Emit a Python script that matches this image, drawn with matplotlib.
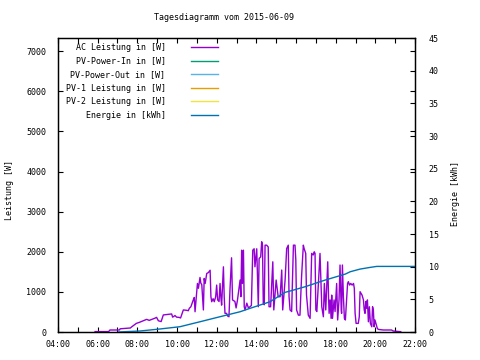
import matplotlib
matplotlib.use("Agg")
import matplotlib.pyplot as plt
from matplotlib.ticker import MultipleLocator

plt.rcParams['font.family'] = 'DejaVu Sans Mono'
plt.rcParams['font.size'] = 6

title = "Tagesdiagramm vom 2015-06-09"
series_labels = ["AC Leistung in [W]", "PV-Power-In in [W]", "PV-Power-Out in [W]",
                 "PV-1 Leistung in [W]", "PV-2 Leistung in [W]", "Energie in [kWh]"]
series_colors = ["#9400D3", "#009E73", "#56B4E9", "#E69F00", "#F0E442", "#0072B2"]

xtick_hours = [4, 6, 8, 10, 12, 14, 16, 18, 20, 22]
xtick_labels = ["04:00", "06:00", "08:00", "10:00", "12:00",
                "14:00", "16:00", "18:00", "20:00", "22:00"]

# AC power (hour of day, watts)
ac_hours = [5.87, 6.55, 6.62, 7.10, 7.13, 7.65, 7.72, 7.95, 8.10, 8.30, 8.47, 8.60, 8.89, 8.97,
            9.06, 9.20, 9.31, 9.55, 9.73, 9.78, 9.90, 9.98, 10.10, 10.18, 10.32, 10.50, 10.57,
            10.62, 10.70, 10.82, 10.87, 10.91, 11.03, 11.08, 11.16, 11.20, 11.25, 11.33, 11.37,
            11.42, 11.50, 11.58, 11.67, 11.71, 11.75, 11.82, 11.88, 11.95, 12.00, 12.05, 12.12,
            12.17, 12.21, 12.25, 12.34, 12.38, 12.42, 12.50, 12.55, 12.62, 12.67, 12.75, 12.80,
            12.92, 12.98, 13.05, 13.18, 13.22, 13.26, 13.30, 13.35, 13.39, 13.43, 13.52, 13.60,
            13.68, 13.75, 13.82, 13.89, 13.93, 14.02, 14.10, 14.14, 14.22, 14.27, 14.31, 14.35,
            14.40, 14.44, 14.52, 14.60, 14.64, 14.72, 14.83, 14.88, 15.00, 15.10, 15.20, 15.28,
            15.33, 15.45, 15.53, 15.61, 15.65, 15.70, 15.78, 15.87, 15.95, 15.99, 16.03, 16.12,
            16.20, 16.28, 16.37, 16.41, 16.49, 16.53, 16.62, 16.71, 16.79, 16.87, 16.92, 16.96,
            17.00, 17.05, 17.13, 17.21, 17.25, 17.30, 17.38, 17.43, 17.50, 17.60, 17.64, 17.67,
            17.72, 17.77, 17.80, 17.84, 17.92, 17.97, 18.05, 18.10, 18.17, 18.22, 18.28, 18.30,
            18.34, 18.39, 18.44, 18.49, 18.56, 18.60, 18.64, 18.70, 18.76, 18.83, 18.90, 18.94,
            18.98, 19.03, 19.14, 19.19, 19.23, 19.28, 19.33, 19.40, 19.44, 19.48, 19.52, 19.56,
            19.60, 19.65, 19.70, 19.75, 19.82, 19.86, 19.90, 19.94, 19.98, 20.03, 20.10, 20.15,
            20.40, 20.82, 20.90, 21.28]
ac_watts = [10, 10, 50, 50, 80, 100, 130, 215, 240, 280, 315, 290, 345, 365,
            280, 260, 425, 440, 450, 370, 410, 370, 365, 350, 550, 540, 530,
            590, 630, 800, 860, 505, 1210, 1090, 1360, 1220, 1180, 550, 1335,
            1210, 1460, 1480, 1540, 880, 755, 830, 755, 880, 1170, 800, 760,
            1210, 880, 670, 1625, 880, 465, 465, 400, 380, 1045, 1850, 800,
            760, 600, 800, 1295, 880, 2040, 1210, 2040, 630, 550, 720, 600,
            630, 660, 2040, 2075, 1625, 2075, 630, 1830, 1875, 2250, 2165, 715,
            680, 2165, 2165, 2120, 630, 630, 1750, 550, 1295, 880, 880, 1545,
            550, 1295, 2080, 2165, 880, 550, 510, 2165, 2165, 1795, 550, 420,
            420, 1375, 2165, 2080, 1960, 920, 420, 340, 1960, 1920, 2000, 1960,
            550, 510, 1210, 1960, 1375, 630, 380, 1210, 550, 1750, 880, 465,
            800, 340, 920, 340, 800, 510, 1210, 300, 800, 1670, 550, 465,
            1670, 880, 340, 300, 880, 1210, 1255, 1170, 1210, 1170, 1210, 1090,
            465, 215, 215, 380, 1005, 960, 920, 800, 550, 465, 760, 590,
            800, 255, 630, 215, 130, 630, 550, 130, 300, 215, 90, 65,
            50, 50, 25, 8]

# daily energy (hour of day, kWh)
energy_hours = [7.04, 8.13, 9.14, 10.15, 11.16, 12.17, 13.18, 13.68, 14.69, 15.45, 15.70,
                16.46, 17.47, 18.49, 18.73, 19.23, 19.74, 20.07, 22.0]
energy_kwh = [0.0, 0.15, 0.46, 0.81, 1.57, 2.34, 3.10, 3.62, 4.63, 6.07, 6.27,
              6.93, 7.95, 8.87, 9.22, 9.63, 9.89, 10.04, 10.04]

fig = plt.figure(figsize=(4.8, 3.6), dpi=100)
ax = fig.add_axes([58 / 480, 28 / 360, 357 / 480, 294 / 360])
ax2 = ax.twinx()

ax.plot(ac_hours, ac_watts, color=series_colors[0], lw=1.0, label=series_labels[0])
for lab, col in zip(series_labels[1:5], series_colors[1:5]):
    ax.plot([], [], color=col, lw=1.0, label=lab)
ax2.plot(energy_hours, energy_kwh, color=series_colors[5], lw=1.0, label=series_labels[5])

ax.set_xlim(4, 22)
ax.set_ylim(0, 7330)
ax2.set_ylim(0, 45)

ax.set_xticks(xtick_hours)
ax.set_xticklabels(xtick_labels)
ax.xaxis.set_minor_locator(MultipleLocator(1))
ax.yaxis.set_major_locator(MultipleLocator(1000))
ax2.yaxis.set_major_locator(MultipleLocator(5))

ax.tick_params(axis='x', which='both', direction='in', top=True, length=3.5, width=0.8, pad=6)
ax.tick_params(axis='y', direction='in', right=True, length=3.5, width=0.8, pad=8.5)
ax2.tick_params(axis='y', direction='in', length=3.5, width=0.8, pad=10)
for a in (ax, ax2):
    for s in a.spines.values():
        s.set_linewidth(0.9)

fig.text(224 / 480, 1 - 18 / 360, title, ha='center', va='center')
fig.text(10 / 480, 1 - 190 / 360, "Leistung [W]", rotation=90, ha='center', va='center')
fig.text(455 / 480, 1 - 193 / 360, "Energie [kWh]", rotation=90, ha='center', va='center')

h1, l1 = ax.get_legend_handles_labels()
h2, l2 = ax2.get_legend_handles_labels()
leg = ax.legend(h1 + h2, l1 + l2, loc='upper right', bbox_to_anchor=(218 / 480, 1 - 43 / 360),
                bbox_transform=fig.transFigure, frameon=False, markerfirst=False,
                handlelength=3.3, handletextpad=3.0, labelspacing=0.55, borderpad=0,
                borderaxespad=0)

fig.savefig("out.png", dpi=100)
